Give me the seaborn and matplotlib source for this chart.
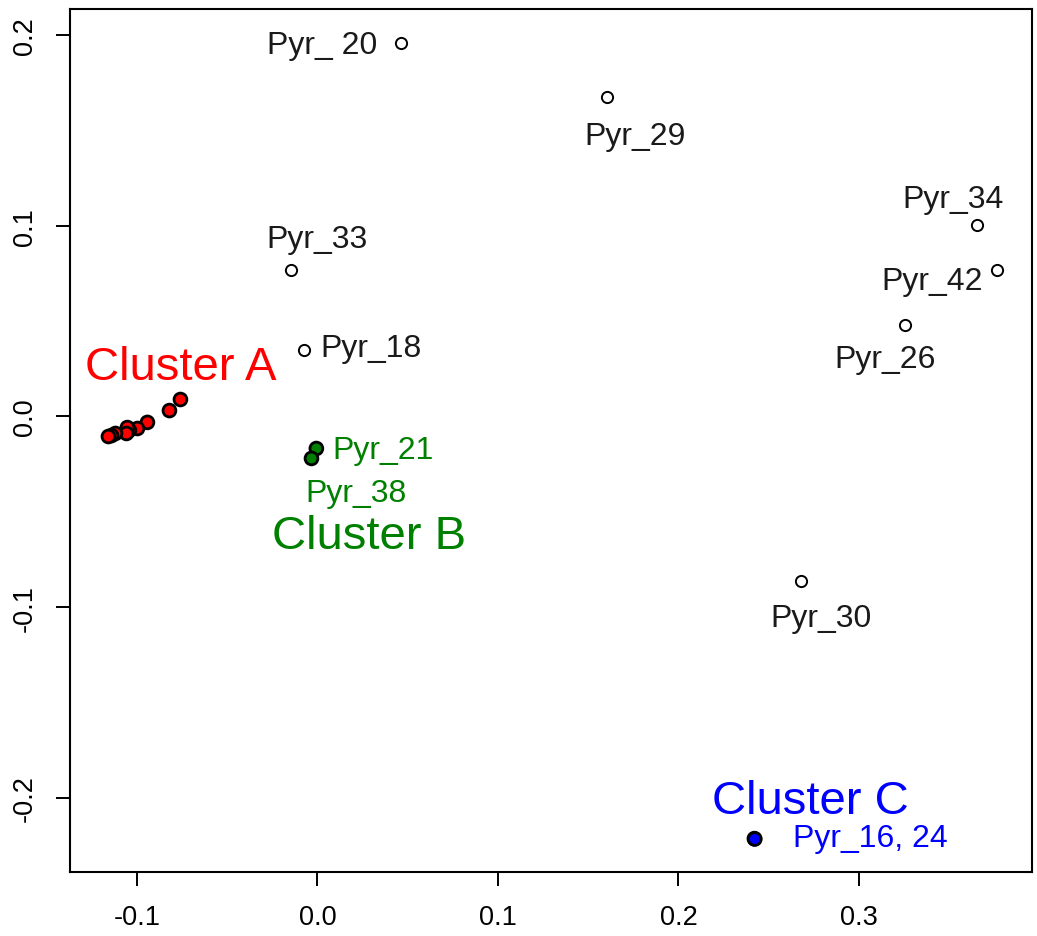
import pandas as pd
import matplotlib
matplotlib.use("Agg")
import matplotlib.pyplot as plt
import seaborn as sns

# point coordinates
cluster_a_x = [-0.0759, -0.0820, -0.0942, -0.0997, -0.1042, -0.1053, -0.1058, -0.1119, -0.1141, -0.1158]
cluster_a_y = [0.0089, 0.0031, -0.0031, -0.0063, -0.0073, -0.0058, -0.0089, -0.0089, -0.0100, -0.0105]
cluster_b_x = [-0.0006, -0.0033]
cluster_b_y = [-0.0168, -0.0220]
cluster_c_x = [0.2421, 0.2423]
cluster_c_y = [-0.2213, -0.2215]
other_names = ["Pyr_ 20", "Pyr_29", "Pyr_34", "Pyr_42", "Pyr_26", "Pyr_33", "Pyr_18", "Pyr_30"]
other_x = [0.0465, 0.1607, 0.3657, 0.3767, 0.3258, -0.0144, -0.0072, 0.2681]
other_y = [0.1960, 0.1673, 0.1002, 0.0766, 0.0477, 0.0766, 0.0346, -0.0865]

# label positions (centres)
other_label_x = [0.0028, 0.1762, 0.3524, 0.3407, 0.3147, 0.0000, 0.0299, 0.2792]
other_label_y = [0.1950, 0.1468, 0.1138, 0.0710, 0.0300, 0.0930, 0.0360, -0.1055]
group_labels = ["Pyr_21", "Pyr_38", "Pyr_16, 24"]
group_label_x = [0.0366, 0.0211, 0.3064]
group_label_y = [-0.0175, -0.0400, -0.2210]
group_label_colors = ["#008000", "#008000", "#0000FF"]
cluster_names = ["Cluster A", "Cluster B", "Cluster C"]
cluster_label_x = [-0.0759, 0.0288, 0.2731]
cluster_label_y = [0.0262, -0.0624, -0.2015]
cluster_colors = ["#FF0000", "#008000", "#0000FF"]

sns.set_style("white")
plt.rcParams["font.family"] = ["Liberation Sans", "DejaVu Sans"]

df = pd.DataFrame({
    "x": cluster_a_x + cluster_b_x + cluster_c_x + other_x,
    "y": cluster_a_y + cluster_b_y + cluster_c_y + other_y,
    "group": ["A"] * len(cluster_a_x) + ["B"] * len(cluster_b_x)
             + ["C"] * len(cluster_c_x) + ["none"] * len(other_x),
})
palette = {"A": "#FF0000", "B": "#008000", "C": "#0000FF", "none": "white"}

fig = plt.figure(figsize=(10.37, 9.37), dpi=100)
ax = fig.add_axes([0.0675, 0.0683, 0.9275, 0.921])

sns.scatterplot(data=df[df.group == "none"], x="x", y="y", color="white",
                edgecolor="black", linewidth=1.4, s=65, ax=ax, legend=False)
sns.scatterplot(data=df[df.group != "none"], x="x", y="y", hue="group",
                palette=palette, edgecolor="black", linewidth=2.0, s=85,
                ax=ax, legend=False)

for name, lx, ly in zip(other_names, other_label_x, other_label_y):
    ax.text(lx, ly, name, ha="center", va="center", fontsize=23, color="#1a1a1a")
for name, lx, ly, c in zip(group_labels, group_label_x, group_label_y, group_label_colors):
    ax.text(lx, ly, name, ha="center", va="center", fontsize=23, color=c)
for name, lx, ly, c in zip(cluster_names, cluster_label_x, cluster_label_y, cluster_colors):
    ax.text(lx, ly, name, ha="center", va="center", fontsize=34, color=c)

ax.set_xlim(-0.1371, 0.3958)
ax.set_ylim(-0.2388, 0.2136)
ax.set_xticks([-0.1, 0.0, 0.1, 0.2, 0.3])
ax.set_xticklabels(["-0.1", "0.0", "0.1", "0.2", "0.3"])
ax.set_yticks([-0.2, -0.1, 0.0, 0.1, 0.2])
ax.set_yticklabels(["-0.2", "-0.1", "0.0", "0.1", "0.2"], rotation=90, va="center")
ax.set_xlabel("")
ax.set_ylabel("")
ax.tick_params(axis="both", direction="out", length=10, width=1.4, labelsize=19.5,
               pad=13, color="black", labelcolor="black", bottom=True, left=True)
for sp in ax.spines.values():
    sp.set_color("black")
    sp.set_linewidth(1.5)

fig.savefig("out.png", dpi=100)
